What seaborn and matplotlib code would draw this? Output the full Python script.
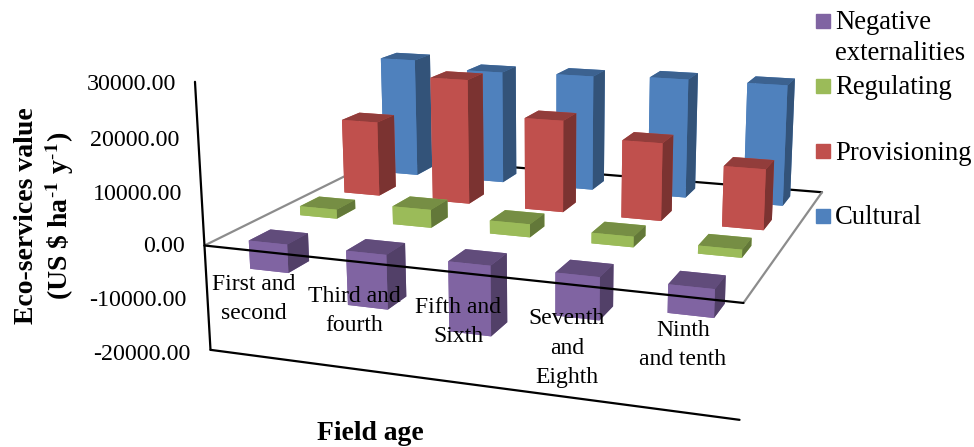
import numpy as np
import pandas as pd
import matplotlib
matplotlib.use("Agg")
import matplotlib.pyplot as plt
from matplotlib.colors import to_rgb
import seaborn as sns

sns.set_theme(style="white")
plt.rcParams["font.family"] = ["Liberation Serif", "DejaVu Sans"]

field_ages = ["First and\nsecond", "Third and\nfourth", "Fifth and\nSixth", "Seventh\nand\nEighth", "Ninth\nand tenth"]
series_names = ["Negative\nexternalities", "Regulating", "Provisioning", "Cultural"]
negative = [-5400, -10200, -12900, -7700, -5000]
regulating = [1800, 3500, 2500, 2000, 1500]
provisioning = [15200, 25000, 18200, 15200, 11700]
cultural = [24900, 23400, 23700, 24200, 24200]
palette = ["#8064A2", "#9BBB59", "#C0504D", "#4F81BD"]
z_tick_labels = ["30000.00", "20000.00", "10000.00", "0.00", "-10000.00", "-20000.00"]

values = pd.DataFrame({
    "age": list(range(5)) * 4,
    "series": np.repeat(range(4), 5),
    "value": negative + regulating + provisioning + cultural,
})

W, H = 974, 447
fig = plt.figure(figsize=(W / 100, H / 100), dpi=100)
ax = fig.add_subplot(projection="3d", computed_zorder=False)
ax.set_position([184.14 / W, -93.46 / H, 678.4 / W, 678.4 / H])
ax.set_xlim(0, 5)
ax.set_ylim(0, 4)
ax.set_zlim(-20000, 30000)
ax.view_init(elev=14.2525, azim=-70.1663, roll=0.1457)
ax.set_proj_type("persp", focal_length=0.4145)
ax.set_box_aspect((1.9766, 1.5189, 1.0))
ax.set_axis_off()
ax.patch.set_alpha(0)


def shade(colour, f):
    return tuple(c * f for c in to_rgb(colour))


# chart frame: floor outline at zero plus the wall and base lines
ax.plot([0, 5], [4, 4], [0, 0], color="black", lw=1.6, zorder=1)
ax.plot([0, 0], [0, 4], [0, 0], color="#8c8c8c", lw=1.6, zorder=1)
ax.plot([5, 5], [0, 4], [0, 0], color="#8c8c8c", lw=1.6, zorder=1)
ax.plot([0, 0], [0, 0], [-20000, 30000], color="black", lw=1.6, zorder=1)
ax.plot([0, 5], [0, 0], [-20000, -20000], color="black", lw=1.6, zorder=1)

bar_w, bar_d = 0.40, 0.42
for row in values.sort_values(["series", "age"], ascending=[False, True]).itertuples():
    base = palette[row.series]
    # per-face colours: bottom, top, front, back, left, right
    faces = [base, shade(base, 0.76), base, base, base, shade(base, 0.64)]
    nudge = 0.02 if row.series > 0 else 0.0
    ax.bar3d(row.age + 0.5 - bar_w / 2 + nudge, row.series + 0.5 - bar_d / 2, min(row.value, 0),
             bar_w, bar_d, abs(row.value), color=faces, shade=False,
             edgecolor="none", linewidth=0,
             zorder=10 + (3 - row.series) * 10 + row.age)

# front floor edge runs across the negative bars
ax.plot([0, 5], [0, 0], [0, 0], color="black", lw=1.6, zorder=100)


def put(x, y, text, **kw):
    fig.text(x / W, 1 - y / H, text, zorder=200, **kw)


tick_xy = [(176, 85), (179, 141), (182, 195), (185, 247), (186, 300), (190, 354)]
for label, (x_px, y_px) in zip(z_tick_labels, tick_xy):
    put(x_px, y_px, label, fontsize=17.3, ha="right", va="center", color="black")

age_label_xy = [(254, 299), (354, 311), (458, 322), (567, 348), (683, 345)]
for label, (x_px, y_px) in zip(field_ages, age_label_xy):
    put(x_px, y_px, label, fontsize=17, ha="center", va="center", color="black", linespacing=1.5)

put(45, 216, "Eco-services value\n(US \\$ ha$^{\\text{-}\\mathbf{1}}$ y$^{\\text{-}\\mathbf{1}}$)", fontsize=20,
    fontweight="bold", rotation=90, ha="center", va="center", color="black", linespacing=1.15,
    math_fontfamily="stix")
put(370, 433, "Field age", fontsize=19.9, fontweight="bold", ha="center", va="center", color="black")

legend_rows = [(21, 38), (86, 87), (151, 153), (216, 217)]
for name, colour, (sq_y, txt_y) in zip(series_names, palette, legend_rows):
    fig.add_artist(plt.Rectangle((816 / W, 1 - (sq_y + 7) / H), 14 / W, 14 / H, color=colour,
                                 transform=fig.transFigure))
    put(835, txt_y, name, fontsize=19.2, ha="left", va="center", color="black", linespacing=1.3)

fig.savefig("out.png", dpi=100)
